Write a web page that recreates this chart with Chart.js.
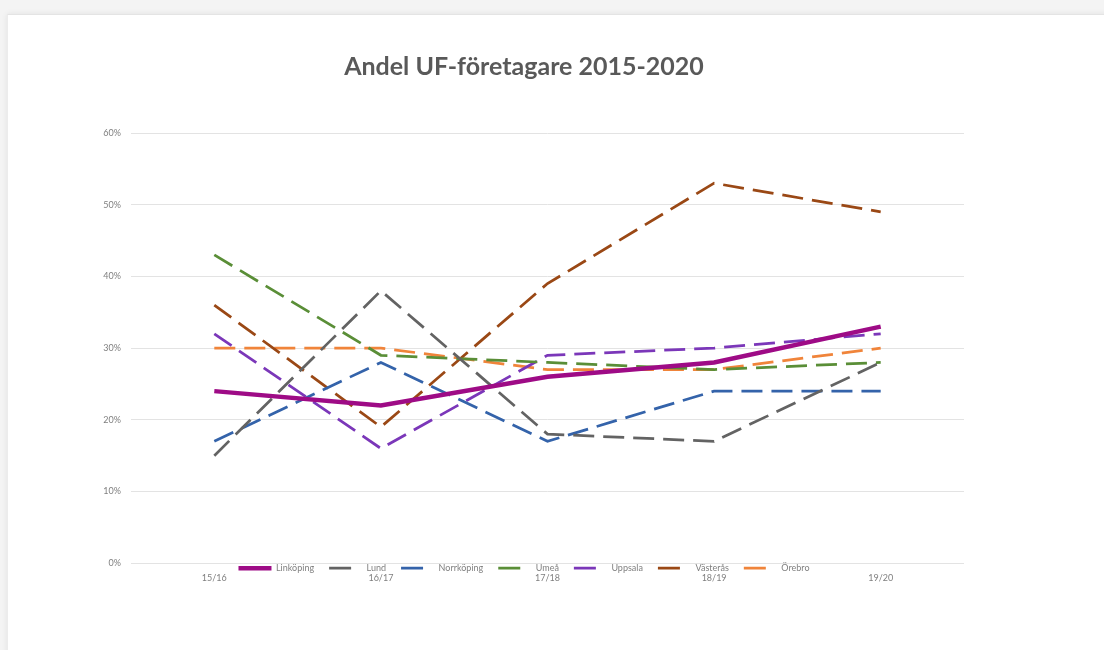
<!DOCTYPE html>
<html>
<head>
<meta charset="utf-8">
<script src="https://cdn.jsdelivr.net/npm/chart.js@4"></script>
<style>
  html, body { margin: 0; padding: 0; }
  body { width: 1104px; height: 650px; background: #f4f4f4; position: relative; overflow: hidden; }
  #card { position: absolute; left: 7px; top: 14px; width: 1110px; height: 650px; background: #fff;
          border-top: 1px solid #e4e4e4; border-left: 1px solid #ececec; box-shadow: 0 0 6px rgba(0,0,0,0.08); }
  #myChart { position: absolute; left: 0; top: 0; }
</style>
</head>
<body>
<div id="card"><canvas id="myChart" width="1032" height="635"></canvas></div>
<script>
// school years
const labels = ['15/16', '16/17', '17/18', '18/19', '19/20'];

// share of UF entrepreneurs, percent
const linkoping = [24, 22, 26, 28, 33];
const lund = [15, 38, 18, 17, 28];
const norrkoping = [17, 28, 17, 24, 24];
const umea = [43, 29, 28, 27, 28];
const uppsala = [32, 16, 29, 30, 32];
const vasteras = [36, 19, 39, 53, 49];
const orebro = [30, 30, 27, 27, 30];

const yTicks = [0, 10, 20, 30, 40, 50, 60];

const DASH = [21, 9];

function line(label, values, color, solid) {
  return {
    label: label,
    data: values,
    borderColor: color,
    backgroundColor: color,
    borderWidth: solid ? 4.5 : 2.75,
    borderDash: solid ? [] : DASH,
    pointRadius: 0,
    tension: 0,
    fill: false
  };
}

const data = {
  labels: labels,
  datasets: [
    line('Linköping', linkoping, '#9e0b86', true),
    line('Lund', lund, '#636363'),
    line('Norrköping', norrkoping, '#3463aa'),
    line('Umeå', umea, '#5a8e37'),
    line('Uppsala', uppsala, '#7b37b9'),
    line('Västerås', vasteras, '#9a4815'),
    line('Örebro', orebro, '#f0843a')
  ]
};

// pull the legend up so it sits over the x labels, like the original
const legendUp = {
  id: 'legendUp',
  afterLayout(chart) {
    const lg = chart.legend;
    const h = lg.height;
    lg.top = chart.chartArea.bottom - 14.5;
    lg.bottom = lg.top + h;
  }
};

const tickFont = { family: 'Lato', size: 9 };

const config = {
  type: 'line',
  data: data,
  options: {
    responsive: false,
    animation: false,
    layout: { padding: { left: 0, right: 0, top: 0, bottom: 24 } },
    scales: {
      x: {
        offset: true,
        grid: { display: false, drawTicks: false },
        border: { display: false },
        ticks: { color: '#7f7f7f', font: tickFont, padding: 9, maxRotation: 0 }
      },
      y: {
        min: 0,
        max: 60,
        afterBuildTicks: s => { s.ticks = yTicks.map(v => ({ value: v })); },
        afterFit: s => { s.width = 123; },
        grid: { color: '#e3e3e3', drawTicks: false },
        border: { display: false },
        ticks: { color: '#7f7f7f', font: tickFont, padding: 10, callback: v => v + '%' }
      },
      // empty right axis: keeps space right of the plot without moving title/legend
      yRight: {
        position: 'right',
        min: 0,
        max: 60,
        afterFit: s => { s.width = 76; },
        grid: { display: false },
        border: { display: false },
        ticks: { display: false }
      }
    },
    plugins: {
      title: {
        display: true,
        text: 'Andel UF-företagare 2015-2020',
        color: '#595959',
        font: { family: 'Lato', size: 25, weight: 'bold' },
        padding: { top: 37, bottom: 51 }
      },
      legend: {
        position: 'bottom',
        labels: {
          usePointStyle: true,
          pointStyleWidth: 33,
          padding: 15,
          font: tickFont,
          generateLabels: chart => chart.data.datasets.map((ds, i) => ({
            text: ds.label,
            fillStyle: ds.borderColor,
            strokeStyle: ds.borderColor,
            fontColor: '#7f7f7f',
            lineWidth: ds.borderWidth,
            lineDash: ds.borderDash.length ? [22, 40] : [],
            pointStyle: 'line',
            rotation: 180,
            hidden: false,
            datasetIndex: i
          }))
        }
      },
      tooltip: { enabled: false }
    }
  },
  plugins: [legendUp]
};

new Chart(document.getElementById('myChart'), config);
</script>
</body>
</html>
